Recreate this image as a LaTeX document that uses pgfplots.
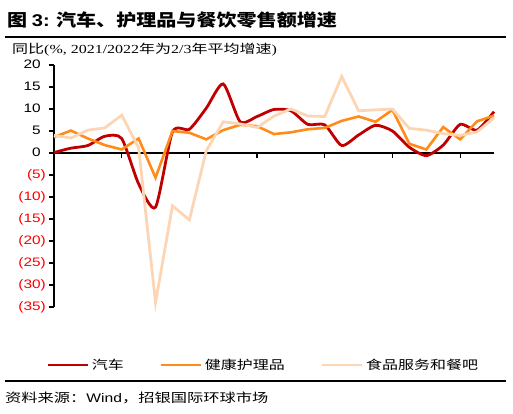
\documentclass[border=0pt]{standalone}
\usepackage{fontspec}
\setmainfont{Liberation Sans}
\newfontfamily\tickfont{Liberation Sans}[FakeStretch=1.25]
\newfontfamily\cjk{Noto Sans CJK SC}[FakeStretch=1.3]
\newfontfamily\cjkt{Noto Sans CJK SC}[FakeStretch=1.18]
\newfontfamily\latt{Liberation Sans}[FakeStretch=1.18]
\newfontfamily\serift{Liberation Serif}[FakeStretch=1.3]
\usepackage{pgfplots}
\usepackage{pgfplotstable}
\pgfplotsset{compat=1.18}

\definecolor{carred}{HTML}{C00000}
\definecolor{careorg}{HTML}{FF8C1A}
\definecolor{foodpeach}{HTML}{FCD5B4}
\definecolor{negred}{HTML}{FF0000}

% quarterly yoy growth, %
\pgfplotstableread{
i  car   care  food
0  0.1   3.6   4.0
1  1.1   5.1   3.4
2  1.7   3.3   5.2
3  3.8   1.8   5.7
4  3.3   0.8   8.6
5  -7.0  3.3   1.2
6  -12.3 -5.6  -34.0
7  4.8   5.0   -12.0
8  5.4   4.6   -15.2
9  10.2  3.1   0.5
10 15.7  5.2   7.1
11 7.1   6.4   6.6
12 8.3   6.1   5.8
13 9.9   4.3   8.4
14 9.6   4.7   10.0
15 6.5   5.4   8.4
16 6.4   5.7   8.3
17 1.7   7.3   17.4
18 4.1   8.3   9.6
19 6.3   7.1   9.8
20 5.0   9.8   10.0
21 1.3   2.1   5.6
22 -0.6  0.8   5.2
23 1.8   5.9   4.4
24 6.5   3.1   4.0
25 5.2   7.2   4.8
26 9.4   8.5   8.0
}\retail

\begin{document}
\begin{tikzpicture}
\path[use as bounding box] (0,0) rectangle (513bp,-414bp);

\node[anchor=west, inner sep=0pt] at (7bp,-20bp)
  {\fontsize{17bp}{19bp}\selectfont\bfseries{\cjkt 图} {\latt 3:} {\cjkt 汽车、护理品与餐饮零售额增速}};
\draw[line width=2.5bp] (5bp,-37bp) -- (506bp,-37bp);
\node[anchor=west, inner sep=0pt] at (12bp,-50bp)
  {\fontsize{12.3bp}{14bp}\selectfont{\cjk 同比}{\serift(\%, 2021/2022}{\cjk 年为}{\serift 2/3}{\cjk 年平均增速}{\serift)}};

\begin{axis}[
  at={(54bp,-307bp)}, anchor=south west,
  scale only axis, width=440bp, height=242bp,
  xmin=0, xmax=26, ymin=-35, ymax=20,
  axis x line*=middle, axis y line*=left,
  x axis line style={-, line width=1.4bp},
  y axis line style={-, line width=1.4bp},
  xtick={0,4,...,24}, xticklabels={},
  ytick={-35,-30,...,20},
  yticklabels={{\color{negred}(35)},{\color{negred}(30)},{\color{negred}(25)},{\color{negred}(20)},{\color{negred}(15)},{\color{negred}(10)},{\color{negred}(5)},0\phantom{)},5\phantom{)},10\phantom{)},15\phantom{)},20\phantom{)}},
  tick align=outside, major tick length=5bp,
  tick style={line width=1.2bp, black},
  ytick pos=left,
  yticklabel style={font=\tickfont\fontsize{12.3bp}{13bp}\selectfont, anchor=east, inner sep=0pt, xshift=-3bp},
  clip=false,
  legend columns=3,
  legend style={at={(axis description cs:-0.0175,-0.2397)}, anchor=west, draw=none, fill=none,
    inner sep=0pt, nodes={inner sep=2.5bp},
    font=\cjk\fontsize{12.3bp}{14bp}\selectfont,
    /tikz/every even column/.style={column sep=33.5bp}},
  legend image code/.code={\draw[#1] (0bp,0bp) -- (40bp,0bp);},
]
\addplot[carred, line width=2.8bp, smooth, tension=0.4] table[x=i, y=car] {\retail};
\addlegendentry{汽车}
\addplot[careorg, line width=2.6bp] table[x=i, y=care] {\retail};
\addlegendentry{健康护理品}
\addplot[foodpeach, line width=2.8bp] table[x=i, y=food] {\retail};
\addlegendentry{食品服务和餐吧}
\end{axis}

\draw[line width=2.5bp] (5bp,-381bp) -- (506bp,-381bp);
\node[anchor=west, inner sep=0pt] at (5bp,-398bp)
  {\fontsize{12.5bp}{14bp}\selectfont{\cjk 资料来源：}{\tickfont Wind}{\cjk ，招银国际环球市场}};
\end{tikzpicture}
\end{document}
